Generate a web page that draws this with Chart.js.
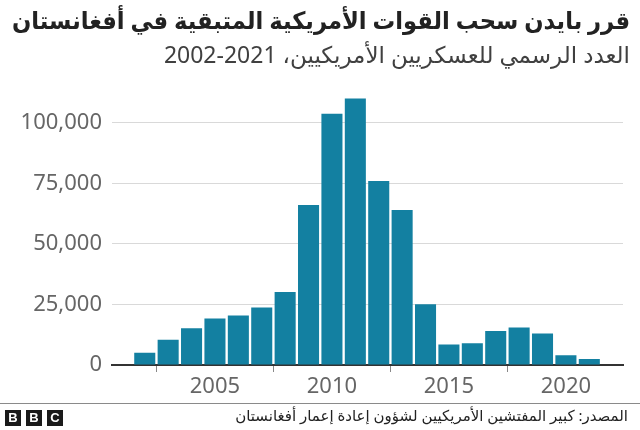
<!DOCTYPE html>
<html>
<head>
<meta charset="utf-8">
<script src="https://cdn.jsdelivr.net/npm/chart.js@4/dist/chart.umd.min.js"></script>
<style>
  html, body { margin: 0; padding: 0; background: #fff; }
  #wrap { width: 640px; height: 430px; position: relative; }
</style>
</head>
<body>
<div id="wrap"><canvas id="troops" dir="rtl"></canvas></div>
<script>
const years = [2002, 2003, 2004, 2005, 2006, 2007, 2008, 2009, 2010, 2011,
               2012, 2013, 2014, 2015, 2016, 2017, 2018, 2019, 2020, 2021];
const troops = [5100, 10400, 15200, 19200, 20400, 23700, 30100, 66000, 103700, 110000,
                76000, 64000, 25100, 8500, 9000, 14000, 15500, 13000, 4000, 2500];
const yTicks = [0, 25000, 50000, 75000, 100000];
const xTicks = [2005, 2010, 2015, 2020];

const titleText = "قرر بايدن سحب القوات الأمريكية المتبقية في أفغانستان";
const subtitleText = "العدد الرسمي للعسكريين الأمريكيين، 2021-2002";
const sourceText = "المصدر: كبير المفتشين الأمريكيين لشؤون إعادة إعمار أفغانستان";

const FONT = "'Noto Sans', 'DejaVu Sans', sans-serif";

// footer: rule, BBC blocks and source line drawn straight on the canvas
const footerPlugin = {
    id: "footer",
    afterDraw(chart) {
        const ctx = chart.ctx;
        ctx.save();
        ctx.fillStyle = "#8a8a8a";
        ctx.fillRect(0, 403, 640, 1);

        ["B", "B", "C"].forEach((ch, i) => {
            const x = 5 + i * 21;
            ctx.fillStyle = "#1a1a1a";
            ctx.fillRect(x, 410, 16, 16);
            ctx.fillStyle = "#fff";
            ctx.font = "bold 13px 'Liberation Sans', sans-serif";
            ctx.textAlign = "center";
            ctx.textBaseline = "middle";
            ctx.fillText(ch, x + 8, 418.5);
        });

        ctx.fillStyle = "#222";
        ctx.font = `15px ${FONT}`;
        ctx.textAlign = "right";
        ctx.textBaseline = "middle";
        ctx.fillText(sourceText, 628, 417);
        ctx.restore();
    },
};

const config = {
    type: "bar",
    data: {
        datasets: [
            {
                data: years.map((y, i) => ({ x: y, y: troops[i] })),
                backgroundColor: "#1380a1",
                borderWidth: 0,
                barPercentage: 0.9,
                categoryPercentage: 1,
            },
        ],
    },
    options: {
        responsive: true,
        maintainAspectRatio: false,
        animation: false,
        layout: { padding: { left: 12, right: 10, top: 0, bottom: 25 } },
        plugins: {
            legend: { display: false },
            tooltip: { enabled: false },
            title: {
                display: true,
                text: titleText,
                align: "end",
                color: "#222",
                font: { family: FONT, size: 24, weight: "bold" },
                padding: { top: 8, bottom: 3 },
            },
            subtitle: {
                display: true,
                text: subtitleText,
                align: "end",
                color: "#404040",
                font: { family: FONT, size: 23 },
                padding: { top: 3, bottom: 16 },
            },
        },
        scales: {
            x: {
                type: "linear",
                offset: false,
                min: 2000.6,
                max: 2022.44,
                afterFit: (s) => { s.height = 40; },
                afterBuildTicks: (s) => { s.ticks = xTicks.map((v) => ({ value: v })); },
                ticks: {
                    color: "#666",
                    font: { family: FONT, size: 22 },
                    padding: 2,
                    maxRotation: 0,
                    callback: (v) => String(v),
                },
                grid: { drawOnChartArea: false, drawTicks: true, tickLength: 7, color: "#888" },
                border: { color: "#333", width: 2 },
            },
            y: {
                min: 0,
                max: 115000,
                afterFit: (s) => { s.width = 100; },
                afterBuildTicks: (s) => { s.ticks = yTicks.map((v) => ({ value: v })); },
                ticks: {
                    color: "#666",
                    font: { family: FONT, size: 22 },
                    padding: 10,
                    callback: (v) => v.toLocaleString("en-US"),
                },
                grid: { drawTicks: false, color: "#d9d9d9", lineWidth: 1 },
                border: { display: false },
            },
            // empty strip on the right so the plot stops short of the titles' edge
            gap: {
                position: "right",
                display: true,
                afterFit: (s) => { s.width = 7; },
                ticks: { display: false },
                grid: { display: false, drawTicks: false },
                border: { display: false },
            },
        },
    },
    plugins: [footerPlugin],
};

const ctx = document.getElementById("troops").getContext("2d");
const chart = new Chart(ctx, config);
</script>
</body>
</html>
